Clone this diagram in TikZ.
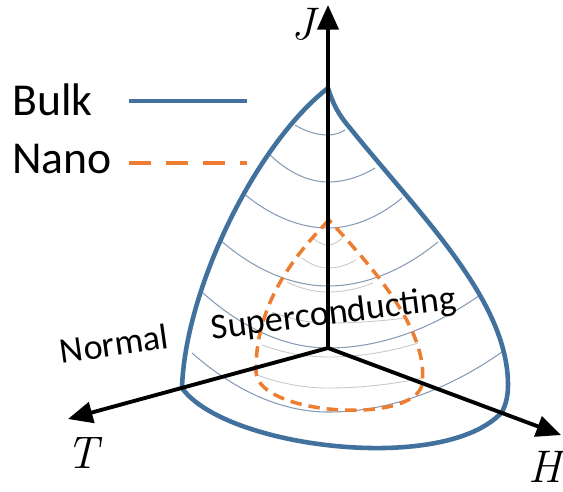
\documentclass[tikz,border=0pt]{standalone}
\usepackage{fontspec}
\newfontfamily\sansfont{Carlito}
\usetikzlibrary{arrows.meta}
\definecolor{bulkblue}{RGB}{65,113,156}
\definecolor{nanoorange}{RGB}{237,125,49}
\definecolor{levelgrey}{RGB}{135,155,182}
\definecolor{faintgrey}{RGB}{200,200,200}
\tikzset{
	axis/.style={line width=2.2pt, -{Triangle[length=14pt,width=12pt]}},
	bulk/.style={bulkblue, line width=2.6pt, line join=round},
	nano/.style={nanoorange, line width=2pt, dash pattern=on 6.5pt off 4pt},
	level/.style={levelgrey, line width=0.6pt},
	faint/.style={faintgrey, line width=0.5pt},
	legend/.style={font=\sansfont\fontsize{26}{30}\selectfont, inner sep=0pt},
	region/.style={font=\sansfont\fontsize{20.5}{24}\selectfont, inner sep=0pt, anchor=base},
	axlbl/.style={font=\fontsize{26}{30}\selectfont\itshape, inner sep=0pt},
}
\begin{document}
\begin{tikzpicture}[x=0.02cm, y=-0.02cm]
			\useasboundingbox (0,0) rectangle (563,491);
			\coordinate (o) at (328,348);
			\coordinate (jtip) at (328,5);
			\coordinate (ttip) at (68,419);
			\coordinate (htip) at (561,435);
			\coordinate (top) at (328,88);
			\coordinate (lc) at (182,388);
			\coordinate (rc) at (502,412);
			\coordinate (ntop) at (329,220);
			\coordinate (nl) at (256,372);
			\coordinate (nr) at (422,385);
			% level lines of the bulk surface
			\foreach \lx/\ly/\by/\rx/\ry in {295/125/135/345/130, 270/155/182/375/168, 243/193/228/402/198, 220/240/286/438/242, 203/293/348/480/295, 192/353/412/502/352}
				\draw[level] (\lx,\ly) parabola bend (328,\by) (\rx,\ry);
			\foreach \lx/\ly/\by/\rx/\ry in {313/238/245/342/238, 302/258/268/356/260, 287/282/292/373/283, 272/312/323/405/318, 262/345/357/418/343, 257/375/388/422/378}
				\draw[faint] (\lx,\ly) parabola bend (328,\by) (\rx,\ry);
			\draw[bulk] (top) .. controls (333,104) and (338,114) .. (350,128)
				.. controls (420,215) and (508,300) .. (508,385)
				.. controls (508,398) and (505,406) .. (rc)
				.. controls (445,475) and (225,448) .. (lc)
				.. controls (185,290) and (255,145) .. cycle;
			\draw[nano] (ntop) .. controls (300,250) and (255,300) .. (nl)
				.. controls (258,415) and (412,425) .. (nr)
				.. controls (430,330) and (370,265) .. cycle;
			\draw[axis] (o) to (jtip);
			\draw[axis] (o) to (ttip);
			\draw[axis] (o) to (htip);
			\node[axlbl] (jlbl) at (303,24) {J};
			\node[axlbl] (tlbl) at (82,453) {T};
			\node[axlbl] (hlbl) at (545,467) {H};
			\node[region, rotate=8] (normal) at (116,356) {Normal};
			\node[region, rotate=7] (sc) at (335,324) {Superconducting};
			% legend
			\node[legend, anchor=base west] (bulklbl) at (12,115) {Bulk};
			\node[legend, anchor=base west] (nanolbl) at (12,173) {Nano};
			\coordinate (b1) at (129,101);
			\coordinate (b2) at (247,101);
			\coordinate (n1) at (129,163);
			\coordinate (n2) at (247,163);
			\draw[bulk] (b1) -- (b2);
			\draw[nano, dash pattern=on 12.5pt off 8.5pt] (n1) -- (n2);
		\end{tikzpicture}
\end{document}
